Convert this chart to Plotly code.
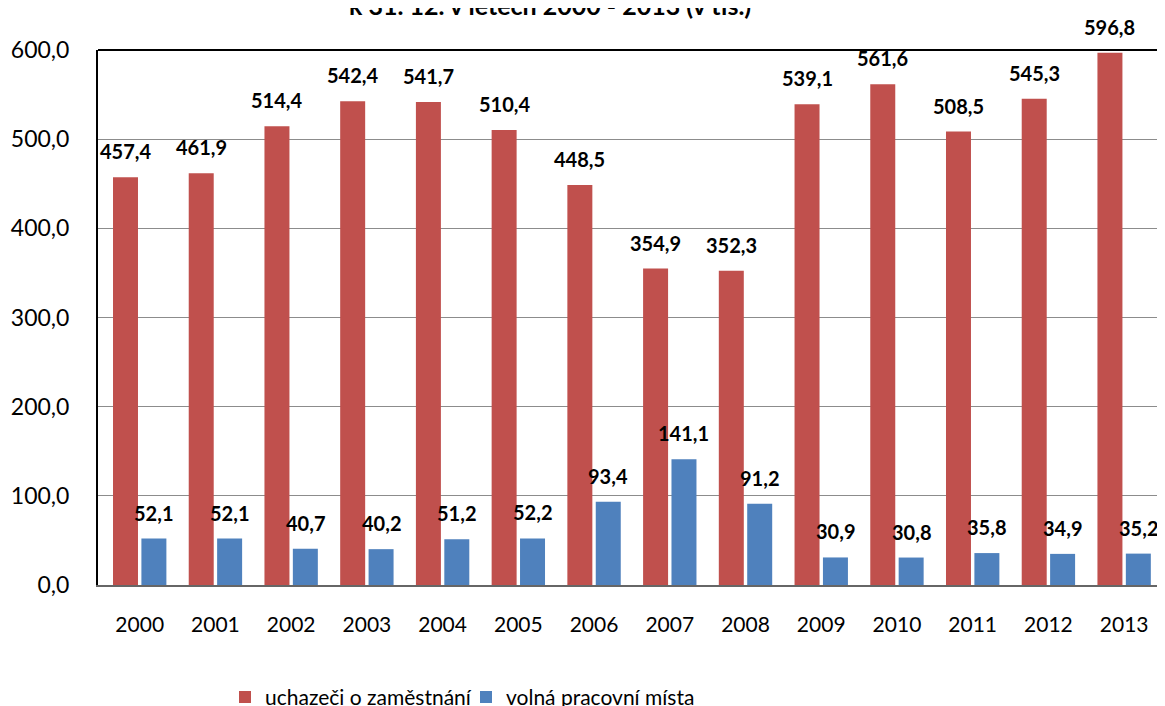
import plotly.graph_objects as go

years = ["2000", "2001", "2002", "2003", "2004", "2005", "2006",
         "2007", "2008", "2009", "2010", "2011", "2012", "2013"]
uchazeci = [457.4, 461.9, 514.4, 542.4, 541.7, 510.4, 448.5,
            354.9, 352.3, 539.1, 561.6, 508.5, 545.3, 596.8]
volna_mista = [52.1, 52.1, 40.7, 40.2, 51.2, 52.2, 93.4,
               141.1, 91.2, 30.9, 30.8, 35.8, 34.9, 35.2]

names = ["uchazeči o zaměstnání", "volná pracovní místa"]
colors = ["#C0504D", "#4F81BD"]
title_text = "k 31. 12. v letech 2000 - 2013 (v tis.)"

BARGAP = 0.25

def fmt(v):
    return f"{v:.1f}".replace(".", ",")

fig = go.Figure()
for name, vals, col in zip(names, [uchazeci, volna_mista], colors):
    fig.add_trace(go.Bar(
        x=years, y=vals, name=name,
        marker=dict(color=col, line=dict(width=0)),
    ))

# data labels above each bar (positioned from the data through the axes)
slot = (1 - BARGAP) / 2
annotations = []
for k, vals in enumerate([uchazeci, volna_mista]):
    off = -slot / 2 if k == 0 else slot / 2
    for i, v in enumerate(vals):
        annotations.append(dict(
            x=i + off, y=v, xref="x", yref="y",
            text="<b>" + fmt(v) + "</b>", showarrow=False,
            xanchor="center", yanchor="bottom", yshift=12,
            font=dict(family="Lato", size=20, color="black"),
        ))

# title (partly cut at the top edge as in the reference)
annotations.append(dict(
    x=(548 - 96) / 1064, y=1, xref="paper", yref="paper",
    text="<b>" + title_text + "</b>", showarrow=False,
    xanchor="center", yanchor="bottom", yshift=28,
    font=dict(family="Lato", size=25, color="black"),
))

fig.update_layout(
    width=1165, height=706,
    paper_bgcolor="white", plot_bgcolor="white",
    barmode="group", bargap=BARGAP, bargroupgap=0.12,
    margin=dict(l=90, r=11, t=42, b=129, autoexpand=False),
    separators=", ",
    font=dict(family="Lato", color="black"),
    showlegend=True,
    legend=dict(orientation="h", x=(223 - 96) / 1064, xanchor="left",
                y=-0.21, yanchor="middle",
                font=dict(family="Lato", size=21, color="black"),
                itemwidth=30, entrywidth=196, traceorder="normal"),
    annotations=annotations,
    shapes=[dict(type="line", xref="paper", yref="paper", x0=0, x1=1, y0=1, y1=1,
                 line=dict(color="black", width=2))],
)
fig.update_yaxes(range=[0, 600], dtick=100, tickformat=".1f",
                 showgrid=True, gridcolor="#8c8c8c", gridwidth=1,
                 showline=True, linecolor="black", linewidth=2,
                 mirror=True, ticks="", ticklabelstandoff=22,
                 tickfont=dict(family="Lato", size=23, color="black"),
                 zeroline=False, automargin=False)
fig.update_xaxes(showline=True, linecolor="#666666", linewidth=2,
                 mirror=False, ticks="", ticklabelstandoff=20,
                 tickfont=dict(family="Lato", size=21, color="black"),
                 automargin=False)

fig.write_html("out.html")
